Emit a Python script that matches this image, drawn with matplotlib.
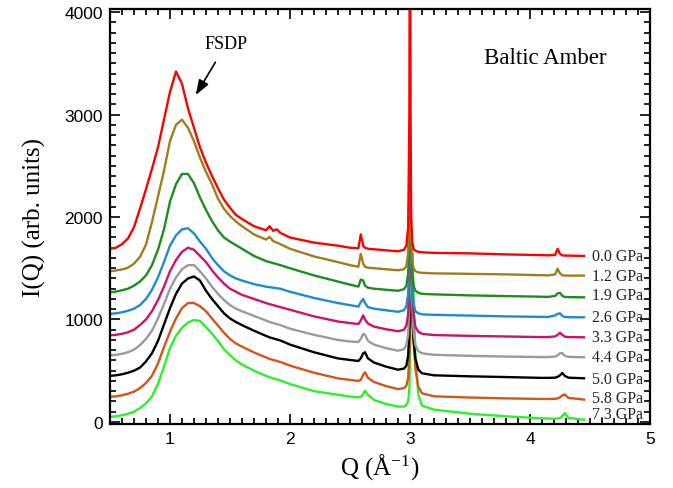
import matplotlib
matplotlib.use("Agg")
import matplotlib.pyplot as plt
from matplotlib.ticker import MultipleLocator

plt.rcParams['mathtext.fontset'] = 'custom'
plt.rcParams['mathtext.rm'] = 'Liberation Serif'
plt.rcParams['mathtext.default'] = 'regular'

q = [0.5, 0.55, 0.6, 0.65, 0.7, 0.75, 0.8, 0.85, 0.9, 0.95,
     1.0, 1.05, 1.1, 1.15, 1.2, 1.25, 1.3, 1.35, 1.4, 1.45, 1.5, 1.55, 1.6,
     1.7, 1.8, 1.83, 1.86, 1.89, 1.92,
     2.0, 2.2, 2.4, 2.5, 2.57,
     2.59, 2.61, 2.625, 2.65, 2.7,
     2.8, 2.9, 2.95, 2.97, 2.985,
     2.995, 3.0, 3.005, 3.01, 3.02,
     3.03, 3.045, 3.07, 3.1, 3.2,
     3.5, 3.8, 4.1, 4.15, 4.21,
     4.23, 4.25, 4.27, 4.29, 4.32,
     4.45]

labels = ["0.0 GPa", "1.2 GPa", "1.9 GPa", "2.6 GPa", "3.3 GPa",
          "4.4 GPa", "5.0 GPa", "5.8 GPa", "7.3 GPa"]
label_y = [1617, 1428, 1242, 1021, 826, 631, 420, 231, 78]

i_00 = [1690, 1700, 1735, 1790, 1900, 2080, 2270, 2470, 2680, 2950,
        3220, 3420, 3300, 3060, 2870, 2680, 2530, 2400, 2280, 2170, 2090, 2020, 1980,
        1910, 1870, 1910, 1865, 1880, 1845,
        1800, 1750, 1720, 1700, 1695,
        1830, 1720, 1700, 1690, 1685,
        1675, 1665, 1680, 1720, 1900,
        3000, 6000, 3000, 2000, 1750,
        1690, 1670, 1660, 1655, 1650,
        1645, 1635, 1628, 1626, 1630,
        1690, 1640, 1625, 1624, 1623,
        1620]
i_12 = [1470, 1478, 1488, 1505, 1545, 1610, 1730, 1950, 2200, 2450,
        2740, 2900, 2950, 2870, 2740, 2580, 2440, 2320, 2180, 2080, 2010, 1955, 1910,
        1830, 1780, 1805, 1765, 1750, 1735,
        1690, 1615, 1560, 1530, 1515,
        1640, 1545, 1515, 1505, 1500,
        1490, 1480, 1490, 1520, 1650,
        2200, 2650, 2300, 1800, 1560,
        1500, 1470, 1460, 1455, 1450,
        1445, 1440, 1432, 1430, 1440,
        1495, 1450, 1430, 1429, 1428,
        1428]
i_19 = [1265, 1272, 1285, 1300, 1330, 1370, 1430, 1530, 1680, 1880,
        2150, 2320, 2420, 2420, 2330, 2190, 2070, 1960, 1870, 1800, 1760, 1725, 1690,
        1620, 1570, 1560, 1550, 1540, 1530,
        1500, 1430, 1370, 1340, 1320,
        1390, 1380, 1330, 1310, 1300,
        1290, 1280, 1295, 1330, 1450,
        1800, 2170, 2000, 1750, 1450,
        1330, 1280, 1260, 1250, 1245,
        1235, 1228, 1222, 1220, 1230,
        1255, 1260, 1230, 1220, 1218,
        1216]
i_26 = [1055, 1060, 1070, 1085, 1105, 1140, 1200, 1290, 1410, 1560,
        1720, 1820, 1880, 1890, 1840, 1760, 1690, 1600, 1530, 1470, 1430, 1400, 1380,
        1345, 1320, 1315, 1310, 1305, 1300,
        1270, 1210, 1160, 1140, 1125,
        1170, 1200, 1160, 1120, 1105,
        1090, 1075, 1090, 1130, 1250,
        1650, 2050, 1900, 1650, 1300,
        1150, 1080, 1060, 1050, 1045,
        1038, 1030, 1025, 1024, 1040,
        1055, 1060, 1035, 1024, 1022,
        1021]
i_33 = [845, 850, 860, 875, 900, 945, 1000, 1080, 1190, 1320,
        1470, 1580, 1660, 1700, 1680, 1620, 1560, 1480, 1410, 1350, 1300, 1270, 1240,
        1200, 1160, 1150, 1140, 1130, 1120,
        1095, 1030, 980, 965, 955,
        990, 1040, 1000, 960, 930,
        905, 885, 900, 940, 1050,
        1400, 1900, 1850, 1600, 1250,
        1050, 930, 880, 860, 848,
        840, 834, 828, 828, 835,
        850, 870, 850, 832, 828,
        826]
i_44 = [650, 655, 665, 680, 705, 750, 810, 890, 1010, 1150,
        1300, 1410, 1490, 1530, 1530, 1470, 1400, 1320, 1250, 1190, 1140, 1105, 1080,
        1035, 990, 975, 965, 955, 945,
        910, 850, 800, 785, 780,
        810, 860, 850, 790, 755,
        720, 695, 710, 750, 850,
        1150, 1600, 1700, 1500, 1100,
        880, 750, 690, 670, 655,
        645, 638, 633, 633, 638,
        650, 670, 672, 645, 635,
        631]
i_50 = [450, 455, 465, 480, 500, 530, 590, 670, 790, 950,
        1110, 1250, 1350, 1400, 1420, 1380, 1280, 1200, 1130, 1060, 1010, 975, 945,
        890, 840, 825, 815, 805, 795,
        755, 680, 620, 605, 595,
        620, 670, 680, 620, 580,
        540, 510, 520, 550, 650,
        900, 1300, 1450, 1400, 1050,
        800, 620, 510, 475, 455,
        445, 438, 430, 430, 432,
        440, 455, 478, 450, 432,
        426]
i_58 = [245, 250, 260, 275, 295, 330, 380, 450, 570, 730,
        880, 1010, 1110, 1160, 1160, 1130, 1080, 1010, 940, 870, 810, 765, 735,
        678, 630, 615, 605, 595, 585,
        550, 480, 425, 410, 400,
        410, 460, 485, 430, 390,
        350, 320, 330, 355, 430,
        650, 1000, 1250, 1350, 1100,
        800, 520, 340, 280, 250,
        238, 230, 224, 224, 226,
        230, 240, 260, 268, 235,
        218]
i_73 = [50, 55, 65, 80, 100, 135, 180, 250, 370, 540,
        720, 840, 920, 970, 995, 985, 925, 860, 790, 710, 650, 600, 560,
        500, 450, 437, 425, 415, 405,
        370, 300, 265, 248, 240,
        245, 270, 305, 265, 215,
        175, 150, 150, 165, 200,
        320, 600, 900, 1200, 1650,
        1250, 650, 260, 160, 120,
        80, 55, 35, 33, 32,
        33, 38, 55, 85, 40,
        22]

series = [i_00, i_12, i_19, i_26, i_33, i_44, i_50, i_58, i_73]
colors = ['#ff0000', '#a07c1c', '#1e8c1e', '#1e8ccc', '#c8146e',
          '#9a9a9a', '#000000', '#d4541a', '#2cf02c']

fig = plt.figure(figsize=(6.73, 4.89), dpi=100)
ax = fig.add_axes([0.1634, 0.1309, 0.8024, 0.8487])

for vals, col in reversed(list(zip(series, colors))):
    ax.plot(q, vals, color=col, lw=1.7, solid_joinstyle='round')

for ly, lab in zip(label_y, labels):
    ax.text(4.52, ly, lab, fontsize=11.5, family='Liberation Serif',
            ha='left', va='center', color='#222222')

ax.set_xlim(0.5, 5.0)
ax.set_ylim(-20, 4030)
ax.xaxis.set_major_locator(MultipleLocator(1))
ax.xaxis.set_minor_locator(MultipleLocator(0.1))
ax.yaxis.set_major_locator(MultipleLocator(1000))
ax.yaxis.set_minor_locator(MultipleLocator(100))
ax.tick_params(which='both', direction='in', top=True, right=True, width=1.2)
ax.tick_params(which='major', length=7, labelsize=12.5, pad=5)
ax.tick_params(which='minor', length=4)
for lab in ax.get_xticklabels() + ax.get_yticklabels():
    lab.set_family('Liberation Sans')
for sp in ax.spines.values():
    sp.set_linewidth(1.6)

ax.set_xlabel(r'Q (Å$^{-1}$)', fontsize=18, family='Liberation Serif', labelpad=4)
ax.set_ylabel('I(Q) (arb. units)', fontsize=18, family='Liberation Serif', labelpad=13)

ax.text(4.13, 3560, 'Baltic Amber', fontsize=16.5, family='Liberation Serif',
        ha='center', va='center')
ax.annotate('FSDP', xy=(1.215, 3190), xytext=(1.47, 3690), fontsize=13,
            family='Liberation Serif', ha='center', va='center',
            arrowprops=dict(arrowstyle='-|>,head_length=0.7,head_width=0.25',
                            color='black', lw=1.2, shrinkA=6, shrinkB=0))

fig.savefig('out.png', dpi=100)
